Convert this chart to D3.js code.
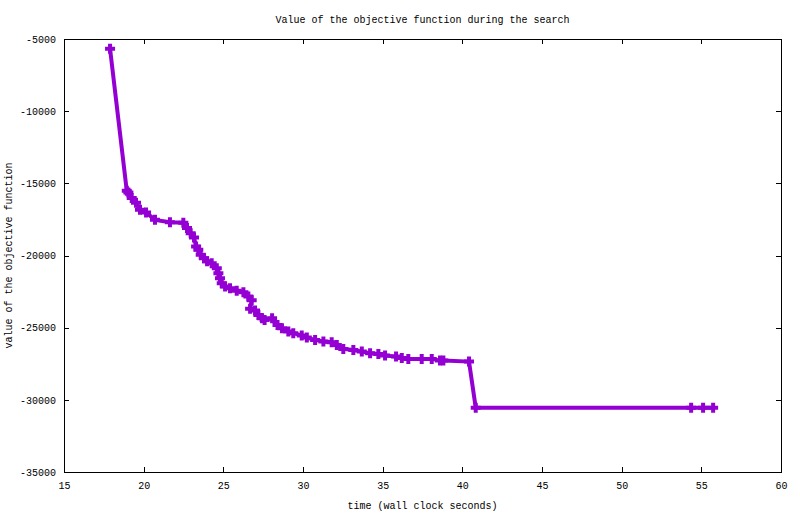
<!DOCTYPE html>
<html>
<head>
<meta charset="utf-8">
<script src="https://cdn.jsdelivr.net/npm/d3@7"></script>
<style>
  body { margin: 0; background: #fff; }
  text { font-family: "Liberation Mono", "DejaVu Sans Mono", monospace; font-size: 10px; fill: #000; }
</style>
</head>
<body>
<div id="chart"></div>
<script>
// DATA ------------------------------
const times = [17.89, 18.94, 19.04, 19.25, 19.52, 19.77, 20.15, 20.71, 21.65, 22.49,
  22.72, 22.95, 23.16, 23.29, 23.43, 23.58, 23.79, 23.98, 24.27, 24.59,
  24.69, 24.79, 24.90, 25.11, 25.42, 25.84, 26.26, 26.57, 26.78, 26.68,
  26.99, 27.20, 27.43, 27.59, 28.06, 28.40, 28.68, 29.08, 29.39, 29.92,
  30.24, 30.76, 31.28, 31.80, 32.12, 32.53, 33.16, 33.69, 34.21, 34.73,
  35.15, 35.84, 36.20, 36.61, 37.45, 38.08, 38.60, 38.81, 40.42, 40.84,
  54.36, 55.11, 55.74];
const objective = [-5673, -15518, -15635, -16023, -16350, -16835, -17022, -17530, -17700, -17736,
  -18103, -18450, -18755, -19379, -19607, -19955, -20183, -20405, -20530, -20877,
  -21223, -21570, -21917, -22152, -22263, -22450, -22554, -22846, -23109, -23698,
  -23802, -24115, -24344, -24461, -24344, -24809, -25036, -25272, -25383, -25536,
  -25688, -25848, -25952, -26007, -26194, -26472, -26542, -26659, -26770, -26818,
  -26936, -27006, -27096, -27165, -27165, -27165, -27283, -27283, -27352, -30541,
  -30541, -30541, -30541];
const xTicks = [15, 20, 25, 30, 35, 40, 45, 50, 55, 60];
const yTicks = [-5000, -10000, -15000, -20000, -25000, -30000, -35000];

const data = times.map((t, i) => ({t: t, v: objective[i]}));

// CHART INIT ------------------------------
const margin = ({top: 39, right: 19, bottom: 42, left: 64});
const width = 800 - margin.left - margin.right;
const height = 514 - margin.top - margin.bottom;
const color = "#9400d3";

let svg = d3.select('#chart').append('svg')
  .attr('width', 800)
  .attr('height', 514)
  .append('g')
  .attr("transform", "translate(" + margin.left + "," + margin.top + ")");

let xScale = d3.scaleLinear().domain([15, 60]).range([0, width]);
let yScale = d3.scaleLinear().domain([-35000, -5000]).range([height, 0]);

// axes: gnuplot style, ticks inward and mirrored, plain hyphen minus
let xAxis = d3.axisBottom(xScale).tickValues(xTicks).tickSize(-5).tickPadding(14)
  .tickFormat(d => String(d));
let yAxis = d3.axisLeft(yScale).tickValues(yTicks).tickSize(-5).tickPadding(8)
  .tickFormat(d => String(d));

let xAxisGroup = svg.append("g").attr("class", "x-axis axis")
  .attr("transform", "translate(0," + height + ")")
  .call(xAxis);
let yAxisGroup = svg.append("g").attr("class", "y-axis axis").call(yAxis);

svg.append("g").attr("transform", "translate(0,0)")
  .call(d3.axisTop(xScale).tickValues(xTicks).tickSize(-5).tickFormat(""));
svg.append("g").attr("transform", "translate(" + width + ",0)")
  .call(d3.axisRight(yScale).tickValues(yTicks).tickSize(-5).tickFormat(""));

svg.selectAll(".domain").remove();
svg.selectAll(".tick line").attr("stroke", "#000").attr("shape-rendering", "crispEdges");
svg.selectAll("g").attr("font-family", null).attr("font-size", null);
svg.selectAll(".tick text").attr("fill", "#000");
xAxisGroup.selectAll("text").attr("dy", "0.3em");

svg.append("rect")
  .attr("x", 0).attr("y", 0)
  .attr("width", width).attr("height", height)
  .attr("fill", "none").attr("stroke", "#000")
  .attr("shape-rendering", "crispEdges");

// line + markers
let line = d3.line().x(d => xScale(d.t)).y(d => yScale(d.v));

svg.append("path")
  .datum(data)
  .attr("d", line)
  .attr("fill", "none")
  .attr("stroke", color)
  .attr("stroke-width", 4)
  .attr("stroke-linejoin", "miter");

const s = 5;
svg.selectAll(".pt")
  .data(data)
  .enter()
  .append("path")
  .attr("class", "pt")
  .attr("d", d => {
    let x = xScale(d.t), y = yScale(d.v);
    return "M" + (x - s) + "," + y + "H" + (x + s) + "M" + x + "," + (y - s) + "V" + (y + s);
  })
  .attr("stroke", color)
  .attr("stroke-width", 4)
  .attr("fill", "none");

// titles
svg.append("text")
  .attr("x", width / 2)
  .attr("y", -16)
  .attr("text-anchor", "middle")
  .text("Value of the objective function during the search");

svg.append("text")
  .attr("x", width / 2)
  .attr("y", height + 37)
  .attr("text-anchor", "middle")
  .text("time (wall clock seconds)");

svg.append("text")
  .attr("transform", "translate(" + (-52) + "," + (height / 2) + ") rotate(-90)")
  .attr("text-anchor", "middle")
  .text("value of the objective function");
</script>
</body>
</html>
